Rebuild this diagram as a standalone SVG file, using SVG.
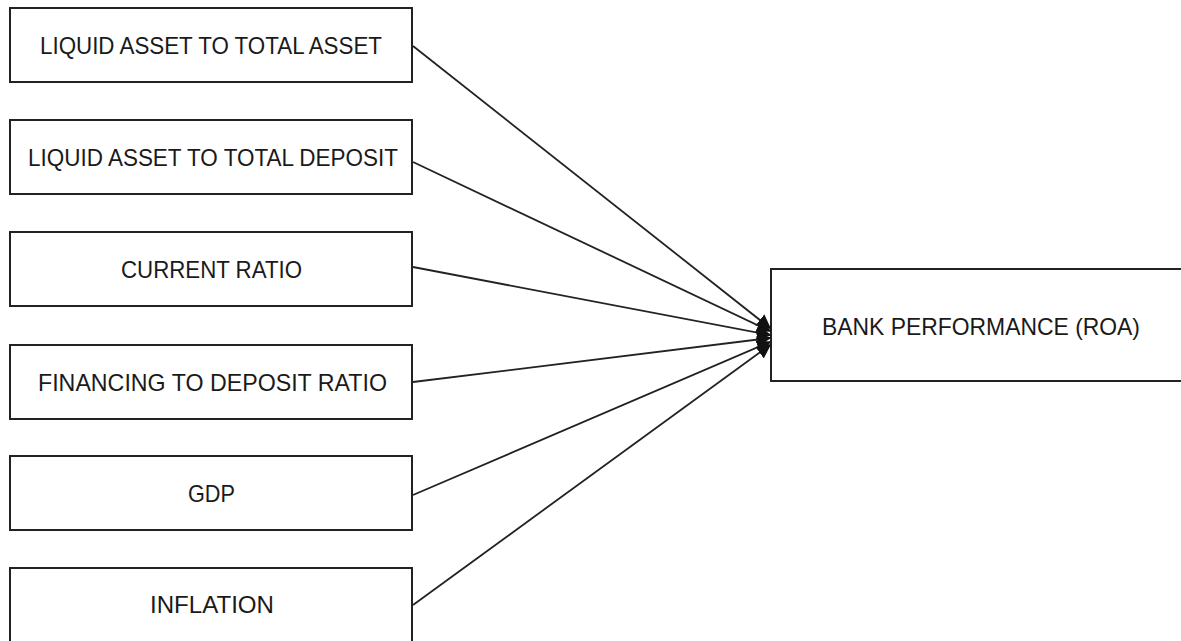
<svg xmlns="http://www.w3.org/2000/svg" width="1181" height="641" viewBox="0 0 1181 641">
<style>
.box{fill:#fff;stroke:#222;stroke-width:2}
.lbl{font-family:"Liberation Sans",Arial,sans-serif;font-size:24px;fill:#1a1a1a}
.conn{stroke:#222;stroke-width:1.8;fill:none;marker-end:url(#ah)}
</style>
<defs>
<marker id="ah" viewBox="0 0 10 10" refX="9" refY="5" markerWidth="8" markerHeight="8" orient="auto" markerUnits="strokeWidth">
<path d="M0,0 L10,5 L0,10 z" fill="#111"/>
</marker>
</defs>
<rect width="1181" height="641" fill="#fff"/>
<g id="n1"><rect class="box" x="10" y="8" width="402" height="74"/><text class="lbl" x="40" y="54" textLength="342" lengthAdjust="spacingAndGlyphs">LIQUID ASSET TO TOTAL ASSET</text></g>
<g id="n2"><rect class="box" x="10" y="120" width="402" height="74"/><text class="lbl" x="28" y="166" textLength="370" lengthAdjust="spacingAndGlyphs">LIQUID ASSET TO TOTAL DEPOSIT</text></g>
<g id="n3"><rect class="box" x="10" y="232" width="402" height="74"/><text class="lbl" x="121" y="278" textLength="181" lengthAdjust="spacingAndGlyphs">CURRENT RATIO</text></g>
<g id="n4"><rect class="box" x="10" y="345" width="402" height="74"/><text class="lbl" x="38" y="391" textLength="349" lengthAdjust="spacingAndGlyphs">FINANCING TO DEPOSIT RATIO</text></g>
<g id="n5"><rect class="box" x="10" y="456" width="402" height="74"/><text class="lbl" x="188" y="502" textLength="47" lengthAdjust="spacingAndGlyphs">GDP</text></g>
<g id="n6"><rect class="box" x="10" y="568" width="402" height="80"/><text class="lbl" x="150" y="613" textLength="124" lengthAdjust="spacingAndGlyphs">INFLATION</text></g>
<g id="n7"><rect class="box" x="771" y="269" width="420" height="112"/><text class="lbl" x="822" y="335" textLength="318" lengthAdjust="spacingAndGlyphs">BANK PERFORMANCE (ROA)</text></g>
<g id="connectors">
<line class="conn" x1="413" y1="46" x2="770" y2="328"/>
<line class="conn" x1="413" y1="162" x2="770" y2="331"/>
<line class="conn" x1="413" y1="267" x2="770" y2="335"/>
<line class="conn" x1="413" y1="382" x2="770" y2="338"/>
<line class="conn" x1="413" y1="495" x2="770" y2="342"/>
<line class="conn" x1="413" y1="605" x2="770" y2="345"/>
</g>
</svg>
